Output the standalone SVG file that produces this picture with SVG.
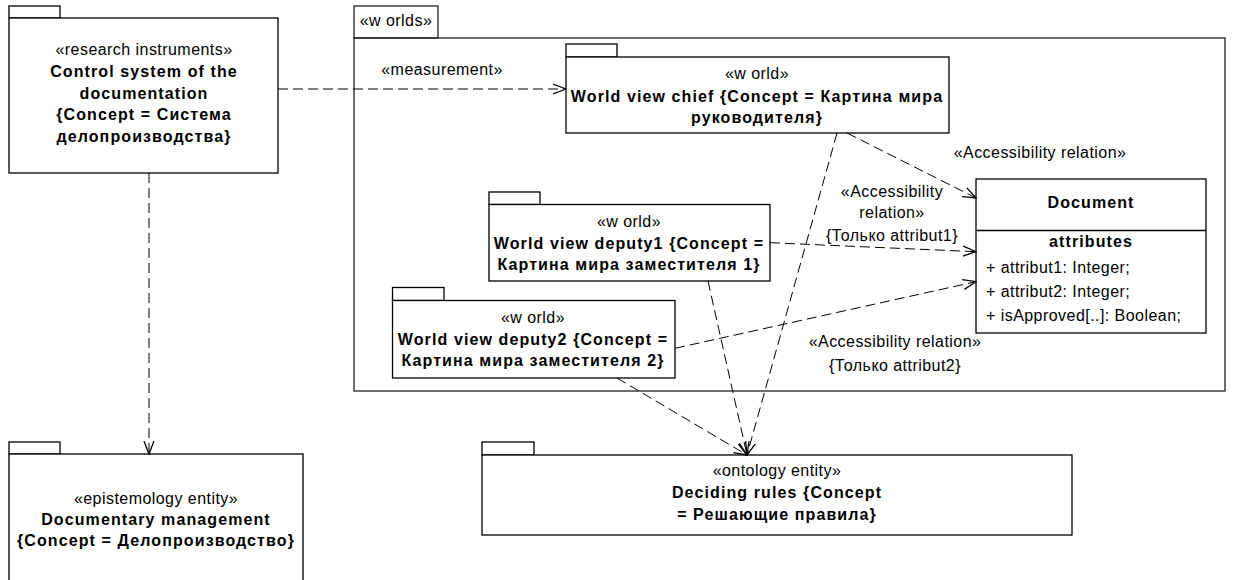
<svg xmlns="http://www.w3.org/2000/svg" width="1233" height="580" viewBox="0 0 1233 580">
<style>
text{font-family:"Liberation Sans",Arial,sans-serif;font-size:16px;fill:#000}
.c{text-anchor:middle;letter-spacing:0.45px}
.b{font-weight:bold;letter-spacing:1.1px}
.l{letter-spacing:0.45px}
.box{fill:#fff;stroke:#000;stroke-width:1.3}
.frame{fill:none;stroke:#222;stroke-width:1.3}
.dep{fill:none;stroke:#000;stroke-width:1;stroke-dasharray:10,5}
</style>
<defs>
<marker id="arr" viewBox="0 0 14 12" refX="13" refY="6" markerWidth="14" markerHeight="12" orient="auto" markerUnits="userSpaceOnUse">
<path d="M0,1 L13,6 L0,11" fill="none" stroke="#000" stroke-width="1.3"/>
</marker>
</defs>
<rect width="1233" height="580" fill="#fff"/>

<g id="worlds">
<rect class="frame" x="354" y="6" width="84" height="32"/>
<rect class="frame" x="354" y="38" width="871" height="353"/>
<text class="c" x="396" y="26">«w orlds»</text>
</g>

<g id="research">
<rect class="box" x="9" y="6" width="51" height="12"/>
<rect class="box" x="9" y="18" width="269" height="155"/>
<text class="c" x="144" y="55">«research instruments»</text>
<text class="c b" x="144" y="77">Control system of the</text>
<text class="c b" x="144" y="98.5">documentation</text>
<text class="c b" x="144" y="120">{Concept = Система</text>
<text class="c b" x="144" y="141.5">делопроизводства}</text>
</g>

<g id="epistemology">
<rect class="box" x="9" y="442" width="51" height="12"/>
<rect class="box" x="9" y="454" width="294" height="140"/>
<text class="c" x="156" y="504">«epistemology entity»</text>
<text class="c b" x="156" y="525">Documentary management</text>
<text class="c b" x="156" y="546">{Concept = Делопроизводство}</text>
</g>

<g id="chief">
<rect class="box" x="566" y="44" width="51" height="13"/>
<rect class="box" x="566" y="57" width="383" height="76"/>
<text class="c" x="757" y="79">«w orld»</text>
<text class="c b" x="757" y="101.5">World view chief {Concept = Картина мира</text>
<text class="c b" x="757" y="123">руководителя}</text>
</g>

<g id="deputy1">
<rect class="box" x="489" y="192" width="51" height="12.5"/>
<rect class="box" x="489" y="204.5" width="281" height="76.5"/>
<text class="c" x="629" y="227">«w orld»</text>
<text class="c b" x="629" y="249">World view deputy1 {Concept =</text>
<text class="c b" x="629" y="270">Картина мира заместителя 1}</text>
</g>

<g id="deputy2">
<rect class="box" x="392.5" y="287.5" width="51.5" height="13"/>
<rect class="box" x="392.5" y="300.5" width="282.5" height="77.5"/>
<text class="c" x="533" y="323">«w orld»</text>
<text class="c b" x="533" y="345">World view deputy2 {Concept =</text>
<text class="c b" x="533" y="366">Картина мира заместителя 2}</text>
</g>

<g id="document">
<rect class="box" x="976" y="179" width="230" height="154"/>
<line x1="976" y1="230.5" x2="1206" y2="230.5" stroke="#000" stroke-width="1.3"/>
<text class="c b" x="1091" y="208">Document</text>
<text class="c b" x="1091" y="247">attributes</text>
<text class="l" x="986" y="273">+ attribut1: Integer;</text>
<text class="l" x="986" y="297">+ attribut2: Integer;</text>
<text class="l" x="986" y="321">+ isApproved[..]: Boolean;</text>
</g>

<g id="deciding">
<rect class="box" x="482" y="442" width="52" height="13"/>
<rect class="box" x="482" y="455" width="590" height="80"/>
<text class="c" x="777" y="475.5">«ontology entity»</text>
<text class="c b" x="777" y="498">Deciding rules {Concept</text>
<text class="c b" x="777" y="519.5">= Решающие правила}</text>
</g>

<g id="connectors">
<line class="dep" x1="278" y1="89" x2="566" y2="89" marker-end="url(#arr)"/>
<line class="dep" x1="149" y1="173" x2="149" y2="454" marker-end="url(#arr)"/>
<line class="dep" x1="847" y1="133" x2="976" y2="198" marker-end="url(#arr)"/>
<line class="dep" x1="837" y1="133" x2="747" y2="455" marker-end="url(#arr)"/>
<line class="dep" x1="770" y1="242.7" x2="976" y2="251.7" marker-end="url(#arr)"/>
<line class="dep" x1="708" y1="281" x2="747" y2="455" marker-end="url(#arr)"/>
<line class="dep" x1="675" y1="348.3" x2="976" y2="281.7" marker-end="url(#arr)"/>
<line class="dep" x1="617" y1="378" x2="747" y2="455" marker-end="url(#arr)"/>
<text class="c" x="442" y="74.5">«measurement»</text>
<text class="c" x="1040" y="158">«Accessibility relation»</text>
<text class="c" x="892" y="197">«Accessibility</text>
<text class="c" x="892" y="218">relation»</text>
<text class="c" x="892" y="240.5">{Только attribut1}</text>
<text class="c" x="895" y="347">«Accessibility relation»</text>
<text class="c" x="895" y="370.5">{Только attribut2}</text>
</g>
</svg>
